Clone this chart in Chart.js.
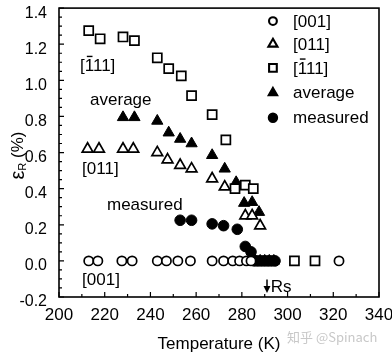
<!DOCTYPE html>
<html>
<head>
<meta charset="utf-8">
<script src="https://cdn.jsdelivr.net/npm/chart.js@4"></script>
<style>
html,body{margin:0;padding:0;background:#fff;}
#wrap{width:392px;height:357px;position:relative;}
</style>
</head>
<body>
<div id="wrap"><canvas id="c" width="392" height="357"></canvas></div>
<script>
// ---- data ----
const xTicks = [200, 220, 240, 260, 280, 300, 320, 340];
const yTicks = [-0.2, 0.0, 0.2, 0.4, 0.6, 0.8, 1.0, 1.2, 1.4];

const T001 = [213, 217, 227.5, 232, 243, 247, 252, 257.5, 267, 272, 276, 279, 282, 284, 322.5];
const V001 = [0, 0, 0, 0, 0, 0, 0, 0, 0, 0, 0, 0, 0, 0, 0];

const T011 = [212.5, 217.5, 228, 232.5, 243, 247.5, 253, 258, 267, 272.5, 281.5, 284.5, 288];
const V011 = [0.62, 0.62, 0.62, 0.62, 0.60, 0.56, 0.53, 0.51, 0.455, 0.41, 0.25, 0.25, 0.195];

const T111 = [213, 218, 228, 233, 243, 248, 253.5, 258, 267, 273, 277, 281.5, 285, 303, 312];
const V111 = [1.275, 1.23, 1.24, 1.22, 1.125, 1.065, 1.025, 0.915, 0.81, 0.67, 0.40, 0.42, 0.40, 0, 0];

const TAVG = [228, 233, 243, 248, 253, 258, 267, 272.5, 277.5, 281, 284.5, 287.5, 286, 288, 290, 292, 294];
const VAVG = [0.795, 0.795, 0.775, 0.71, 0.675, 0.65, 0.585, 0.51, 0.435, 0.32, 0.325, 0.27, 0, 0, 0, 0, 0];

const TMEAS = [253, 258, 267, 272, 278, 281.5, 284, 285.5, 287, 288.5, 290, 291.5, 293, 294.5];
const VMEAS = [0.225, 0.225, 0.205, 0.195, 0.175, 0.08, 0.05, 0, 0, 0, 0, 0, 0, 0];

const seriesNames = ['[001]', '[011]', '[1\u030411]', 'average', 'measured'];

const pts = (xs, ys) => xs.map((x, i) => ({x: x, y: ys[i]}));
const FONT = "'Liberation Sans', Arial, Helvetica, sans-serif";

const datasets = [
  {label: seriesNames[0], data: pts(T001, V001), pointStyle: 'circle', pointRadius: 4.6, backgroundColor: '#fff', borderColor: '#000', borderWidth: 1.7},
  {label: seriesNames[1], data: pts(T011, V011), pointStyle: 'triangle', pointRadius: 6.2, backgroundColor: '#fff', borderColor: '#000', borderWidth: 1.7},
  {label: seriesNames[2], data: pts(T111, V111), pointStyle: 'rect', pointRadius: 6.4, backgroundColor: '#fff', borderColor: '#000', borderWidth: 1.7},
  {label: seriesNames[3], data: pts(TAVG, VAVG), pointStyle: 'triangle', pointRadius: 6.5, backgroundColor: '#000', borderColor: '#000', borderWidth: 1},
  {label: seriesNames[4], data: pts(TMEAS, VMEAS), pointStyle: 'circle', pointRadius: 5.3, backgroundColor: '#000', borderColor: '#000', borderWidth: 1}
];

// draws text; a combining macron (U+0304) is drawn as a bar over the preceding character
function drawLabel(ctx, txt, x, y) {
  const k = txt.indexOf('\u0304');
  if (k < 0) { ctx.fillText(txt, x, y); return; }
  const plain = txt.replace('\u0304', '');
  ctx.fillText(plain, x, y);
  const before = ctx.measureText(plain.slice(0, k - 1)).width;
  const cw = ctx.measureText(plain.charAt(k - 1)).width;
  const m = ctx.measureText(plain);
  const top = (ctx.textBaseline === 'middle') ? y - m.actualBoundingBoxAscent : y - m.actualBoundingBoxAscent;
  ctx.save();
  ctx.strokeStyle = ctx.fillStyle; ctx.lineWidth = 1.4;
  ctx.beginPath();
  ctx.moveTo(x + before + cw * 0.22, top - 2.5);
  ctx.lineTo(x + before + cw * 0.82, top - 2.5);
  ctx.stroke();
  ctx.restore();
}

const decor = {
  id: 'decor',
  afterDraw(chart) {
    const ctx = chart.ctx, a = chart.chartArea;
    const xs = chart.scales.x, ys = chart.scales.y;
    ctx.save();
    // frame
    ctx.strokeStyle = '#000'; ctx.lineWidth = 1.6;
    ctx.strokeRect(a.left, a.top, a.right - a.left, a.bottom - a.top);
    // inward ticks
    ctx.lineWidth = 1.2;
    ctx.beginPath();
    for (let v = 200; v <= 340; v += 10) {
      const px = xs.getPixelForValue(v);
      const len = (v % 20 === 0) ? 5 : 3;
      ctx.moveTo(px, a.bottom); ctx.lineTo(px, a.bottom - len);
    }
    for (let i = 0; i <= 32; i++) {
      const v = -0.2 + i * 0.05;
      const py = ys.getPixelForValue(v);
      const len = (i % 4 === 0) ? 5 : 3;
      ctx.moveTo(a.left, py); ctx.lineTo(a.left + len, py);
    }
    ctx.stroke();

    // annotations
    ctx.fillStyle = '#000';
    ctx.textBaseline = 'alphabetic';
    ctx.textAlign = 'left';
    ctx.font = '17px ' + FONT;
    const put = (txt, tx, ty) => drawLabel(ctx, txt, xs.getPixelForValue(tx), ys.getPixelForValue(ty));
    put(seriesNames[2], 209.2, 1.052);
    put(seriesNames[3], 213.6, 0.865);
    put(seriesNames[1], 210.1, 0.479);
    put(seriesNames[4], 221, 0.28);
    put(seriesNames[0], 210.1, -0.134);
    put('Rs', 292.6, -0.172);
    // Rs arrow
    const ax = xs.getPixelForValue(291);
    const ay1 = ys.getPixelForValue(-0.103), ay2 = ys.getPixelForValue(-0.178);
    ctx.strokeStyle = '#000';
    ctx.lineWidth = 1.5;
    ctx.beginPath(); ctx.moveTo(ax, ay1); ctx.lineTo(ax, ay2 - 5); ctx.stroke();
    ctx.beginPath(); ctx.moveTo(ax - 3.5, ay2 - 7); ctx.lineTo(ax + 3.5, ay2 - 7); ctx.lineTo(ax, ay2); ctx.closePath(); ctx.fill();

    // legend
    const legY = [1.328, 1.201, 1.069, 0.931, 0.793];
    const symX = xs.getPixelForValue(293.6), txtX = xs.getPixelForValue(302.4);
    chart.data.datasets.forEach((d, i) => {
      const py = ys.getPixelForValue(legY[i]);
      ctx.fillStyle = d.backgroundColor; ctx.strokeStyle = d.borderColor; ctx.lineWidth = d.borderWidth + 0.4;
      Chart.helpers.drawPoint(ctx, {pointStyle: d.pointStyle, radius: d.pointRadius * 0.85, rotation: 0, borderWidth: d.borderWidth}, symX, py);
      ctx.fillStyle = '#000';
      ctx.textBaseline = 'middle';
      drawLabel(ctx, d.label, txtX, py + 1);
    });

    // y axis title with subscript
    ctx.save();
    ctx.fillStyle = '#000';
    ctx.translate(18, (a.top + a.bottom) / 2 + 3);
    ctx.rotate(-Math.PI / 2);
    ctx.textBaseline = 'middle'; ctx.textAlign = 'left';
    ctx.font = '20px ' + FONT;
    const w1 = ctx.measureText('\u03B5').width;
    ctx.font = '11px ' + FONT;
    const w2 = ctx.measureText('R').width;
    ctx.font = '17px ' + FONT;
    const w3 = ctx.measureText(' (%)').width;
    let sx = -(w1 + w2 + w3) / 2;
    ctx.font = '20px ' + FONT; ctx.fillText('\u03B5', sx, 0); sx += w1;
    ctx.font = '11px ' + FONT; ctx.fillText('R', sx, 5); sx += w2;
    ctx.font = '17px ' + FONT; ctx.fillText(' (%)', sx, 0);
    ctx.restore();

    // watermark
    ctx.fillStyle = '#c8c8c8';
    ctx.font = "13px 'Noto Sans CJK SC', sans-serif";
    ctx.textAlign = 'left'; ctx.textBaseline = 'middle';
    ctx.fillText('知乎 @Spinach', 287, 337);
    ctx.restore();
  }
};

new Chart(document.getElementById('c'), {
  type: 'scatter',
  data: {datasets: datasets},
  options: {
    responsive: false,
    animation: false,
    layout: {padding: {top: 7, right: 13, left: 0, bottom: 0}},
    plugins: {legend: {display: false}, tooltip: {enabled: false}},
    scales: {
      x: {
        type: 'linear', min: 200, max: 340,
        afterBuildTicks: s => { s.ticks = xTicks.map(v => ({value: v})); },
        afterFit: s => { s.height = 60; s.paddingLeft = 0; s.paddingRight = 0; },
        grid: {display: false}, border: {display: false},
        ticks: {color: '#000', font: {family: FONT, size: 17}, padding: 0, maxRotation: 0, autoSkip: false, callback: v => String(v)},
        title: {display: true, text: 'Temperature (K)', color: '#000', font: {family: FONT, size: 17}, padding: {top: 2, bottom: 2}}
      },
      y: {
        type: 'linear', min: -0.2, max: 1.4,
        afterBuildTicks: s => { s.ticks = yTicks.map(v => ({value: v})); },
        afterFit: s => { s.width = 59; s.paddingTop = 0; s.paddingBottom = 0; },
        grid: {display: false}, border: {display: false},
        ticks: {color: '#000', font: {family: FONT, size: 16}, padding: 4, labelOffset: 5, autoSkip: false, callback: v => Number(v).toFixed(1)}
      }
    }
  },
  plugins: [decor]
});
</script>
</body>
</html>
